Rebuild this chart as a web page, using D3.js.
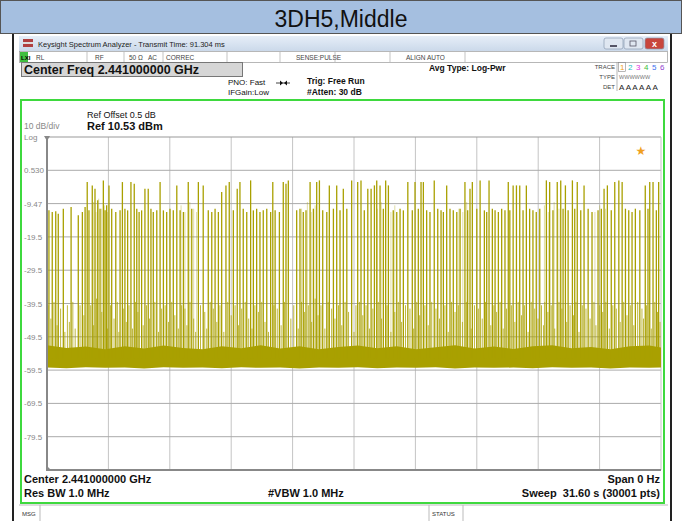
<!DOCTYPE html>
<html><head><meta charset="utf-8">
<script src="https://cdn.jsdelivr.net/npm/d3@7"></script>
<style>body{margin:0;background:#fff}svg{display:block;font-family:"Liberation Sans",Arial,sans-serif}</style>
</head><body><svg id="c" width="682" height="521"></svg>
<script>
// ---- data ----
const sweepSeconds = 31.6;
const refLevel = 10.53;
const bottomLevel = -89.47;
const yTickValues = [0.53, -9.47, -19.47, -29.47, -39.47, -49.47, -59.47, -69.47, -79.47];
const yTickLabels = ["0.530", "-9.47", "-19.5", "-29.5", "-39.5", "-49.5", "-59.5", "-69.5", "-79.5"];
// packet bursts: time (s) and peak level (dBm)
const burstTimes = [0.10,0.27,0.45,0.58,0.84,1.24,1.61,1.82,1.96,2.07,2.16,2.33,2.47,2.61,2.73,2.90,2.99,3.07,3.19,3.33,3.54,3.76,3.88,4.01,4.15,4.32,4.49,4.62,4.74,4.87,5.04,5.21,5.35,5.47,5.65,5.82,5.99,6.16,6.33,6.50,6.68,6.85,7.02,7.27,7.45,7.79,8.04,8.30,8.48,8.65,8.82,8.99,9.21,9.38,9.59,9.79,9.93,10.10,10.28,10.48,10.62,10.79,10.96,11.13,11.31,11.51,11.62,11.74,11.96,12.16,12.30,12.42,12.85,13.02,13.19,13.33,13.54,13.71,13.88,14.02,14.19,14.40,14.53,14.74,14.91,15.08,15.25,15.43,15.68,15.99,16.16,16.33,16.51,16.68,16.85,16.97,17.14,17.31,17.43,17.57,17.82,18.00,18.17,18.34,18.57,18.80,18.94,19.11,19.25,19.37,19.54,19.71,19.93,20.11,20.28,20.40,20.57,20.74,20.91,21.09,21.26,21.51,21.65,21.77,21.89,22.12,22.29,22.51,22.63,22.75,22.92,23.06,23.23,23.40,23.57,23.74,23.82,23.99,24.16,24.33,24.50,24.67,24.84,25.01,25.18,25.36,25.70,25.87,26.04,26.26,26.44,26.56,26.68,26.82,27.04,27.16,27.29,27.47,27.64,27.85,28.05,28.36,28.53,28.67,28.84,29.04,29.22,29.43,29.60,29.77,29.94,30.11,30.28,30.51,30.79,30.93,31.02,31.19,31.36,31.48];
const burstLevels = [-11.5,-12.0,-11.8,-12.5,-11.0,-10.5,-13.0,-12.0,-10.5,-3.0,-11.5,-4.0,-5.0,-8.5,-11.0,-2.5,-11.5,-10.0,-4.0,-11.0,-12.0,-11.5,-3.0,-11.0,-11.5,-3.0,-3.5,-11.0,-12.0,-11.5,-5.0,-5.0,-11.0,-12.0,-11.5,-3.0,-11.5,-12.0,-11.0,-11.5,-4.0,-11.5,-12.0,-3.0,-11.0,-3.0,-4.0,-11.5,-12.0,-11.0,-12.0,-6.0,-4.0,-3.0,-11.5,-5.0,-3.0,-11.0,-12.0,-2.5,-11.5,-11.0,-12.0,-11.5,-11.0,-12.0,-3.0,-11.5,-12.0,-3.0,-3.5,-2.5,-11.5,-11.0,-12.0,-11.5,-3.0,-11.0,-3.0,-2.5,-11.5,-12.0,-4.0,-11.0,-4.0,-11.5,-5.0,-11.0,-2.5,-3.0,-2.5,-11.5,-5.0,-5.0,-4.0,-2.5,-4.0,-11.0,-2.5,-4.0,-11.5,-12.0,-11.0,-11.5,-3.0,-11.5,-3.0,-11.0,-3.0,-3.0,-11.5,-12.0,-2.5,-11.0,-11.5,-12.0,-4.0,-11.0,-11.5,-12.0,-11.0,-3.0,-11.5,-5.0,-3.0,-11.0,-2.5,-11.5,-12.0,-2.5,-11.0,-11.5,-12.0,-11.0,-11.5,-3.0,-11.5,-4.0,-4.0,-4.0,-11.5,-4.0,-11.0,-11.5,-12.0,-11.0,-2.5,-3.0,-11.5,-3.0,-2.5,-11.0,-4.0,-11.5,-2.5,-11.0,-3.0,-11.5,-4.0,-11.0,-12.0,-11.5,-11.0,-5.0,-4.0,-11.5,-3.0,-2.5,-3.0,-11.0,-11.5,-12.0,-11.0,-11.5,-4.0,-11.0,-3.0,-3.0,-11.5,-3.0];
// bursts seen only faintly (dense, partly covered pixels)
const faintTimes = [2.40,2.52,2.66,2.80,2.95,3.12,6.90,7.10,7.35,7.55,7.70,13.10,13.40,13.60,13.80,17.00,17.20,17.70,17.90,21.20,21.40,21.60,25.60,25.80,26.10,26.35,28.20,28.45,28.75];
const faintLevels = [-9,-12,-8,-11,-10,-12,-10,-12,-9,-11,-12,-11,-9,-12,-10,-11,-9,-12,-10,-11,-12,-9,-10,-12,-9,-11,-12,-10,-11];
// weaker bursts reaching around -40 dBm
const weakTimes = [0.05,0.20,0.36,0.52,0.70,0.92,1.05,1.15,1.33,1.45,1.70,1.90,2.25,2.40,2.55,2.82,3.12,3.27,3.45,3.62,3.70,3.95,4.08,4.22,4.40,4.56,4.68,4.95,5.12,5.28,5.55,5.74,5.90,6.08,6.25,6.42,6.58,6.76,6.93,7.10,7.20,7.36,7.55,7.65,7.90,8.12,8.22,8.40,8.56,8.74,8.90,9.10,9.30,9.48,9.68,9.86,10.02,10.20,10.38,10.55,10.70,10.88,11.05,11.22,11.40,11.68,11.85,12.05,12.22,12.55,12.70,12.93,13.10,13.26,13.45,13.62,13.80,13.95,14.10,14.30,14.47,14.65,14.82,15.00,15.17,15.34,15.52,15.80,15.90,16.08,16.25,16.42,16.60,16.77,17.05,17.22,17.50,17.70,17.90,18.08,18.25,18.45,18.68,18.87,19.03,19.18,19.45,19.62,19.80,20.02,20.20,20.48,20.65,20.82,21.00,21.17,21.38,21.58,21.83,22.00,22.20,22.40,22.57,22.84,23.00,23.14,23.32,23.48,23.65,23.90,24.08,24.25,24.42,24.58,24.76,24.92,25.10,25.27,25.45,25.55,25.62,25.78,25.95,26.13,26.35,26.50,26.75,26.92,27.10,27.22,27.38,27.55,27.74,27.95,28.15,28.25,28.45,28.60,28.76,28.94,29.12,29.30,29.50,29.68,29.85,30.02,30.20,30.40,30.62,30.70,30.85,31.10,31.28,31.42,31.55];
const weakLevels = [-40,-44,-39,-46,-41,-48,-40,-45,-39,-47,-40,-43,-40,-46,-38,-42,-47,-40,-44,-39,-48,-41,-45,-40,-47,-39,-42,-46,-40,-44,-39,-48,-41,-40,-45,-39,-43,-47,-40,-41,-46,-39,-44,-48,-40,-42,-47,-39,-41,-45,-40,-48,-39,-43,-40,-46,-41,-39,-44,-47,-40,-42,-39,-45,-48,-40,-41,-46,-39,-44,-40,-47,-39,-42,-40,-45,-38,-43,-40,-47,-39,-41,-44,-40,-46,-39,-42,-48,-40,-39,-43,-40,-47,-41,-39,-44,-40,-48,-42,-39,-45,-40,-41,-47,-39,-43,-40,-46,-39,-41,-44,-40,-48,-39,-42,-40,-45,-39,-47,-40,-41,-44,-39,-46,-40,-42,-39,-47,-41,-40,-45,-39,-43,-40,-48,-39,-41,-44,-40,-46,-39,-42,-40,-47,-39,-41,-45,-40,-43,-39,-48,-40,-41,-44,-39,-46,-40,-42,-39,-47,-40,-41,-45,-39,-43,-40,-46,-39,-41,-44,-40,-47,-39,-42,-45];
// noise floor envelope
const floorTimes = [0,1,2,3,4,5,6,7,8,9,10,11,12,13,14,15,16,17,18,19,20,21,22,23,24,25,26,27,28,29,30,31,31.6];
const floorTop = [-52.0,-52.8,-52.4,-53.2,-52.3,-53.0,-52.1,-52.8,-53.2,-52.3,-52.9,-52.0,-53.0,-52.3,-53.2,-52.5,-52.1,-52.9,-52.3,-53.2,-52.6,-52.0,-53.0,-52.4,-53.1,-52.3,-52.0,-52.9,-52.5,-53.2,-52.3,-52.1,-52.7];
const floorBottom = [-58.7,-58.9,-58.6,-58.8,-58.7,-59.0,-58.6,-58.8,-58.7,-58.9,-58.6,-58.8,-58.7,-59.0,-58.7,-58.8,-58.6,-58.9,-58.7,-58.8,-58.6,-59.0,-58.7,-58.8,-58.7,-58.9,-58.6,-58.8,-58.7,-59.0,-58.7,-58.8,-58.7];

// ---- drawing ----
const svg = d3.select("#c");
const F = '"Liberation Sans",Arial,sans-serif';
const txt = (x,y,s,o={}) => svg.append("text").attr("x",x).attr("y",y).text(s)
  .attr("font-size",o.size||9).attr("font-weight",o.bold?"bold":"normal")
  .attr("fill",o.fill||"#000").attr("text-anchor",o.anchor||"start").attr("font-family",o.family||F);

// title band
svg.append("rect").attr("x",0.5).attr("y",0.5).attr("width",681).attr("height",33).attr("fill","#a5bfe0").attr("stroke","#555");
txt(341,27,"3DH5,Middle",{size:23,anchor:"middle",fill:"#111"});
// frame lines
svg.append("rect").attr("x",12).attr("y",34).attr("width",2).attr("height",487).attr("fill","#222");
svg.append("rect").attr("x",670).attr("y",34).attr("width",2).attr("height",487).attr("fill","#222");

// window title bar
const defs = svg.append("defs");
const g1 = defs.append("linearGradient").attr("id","tb").attr("x1",0).attr("y1",0).attr("x2",0).attr("y2",1);
g1.append("stop").attr("offset",0).attr("stop-color","#e6eef8");
g1.append("stop").attr("offset",1).attr("stop-color","#cbd9ea");
svg.append("rect").attr("x",19).attr("y",36).attr("width",649).attr("height",15).attr("fill","url(#tb)");
svg.append("rect").attr("x",23).attr("y",39).attr("width",10).attr("height",8).attr("fill","#b04040");
svg.append("rect").attr("x",23).attr("y",42).attr("width",10).attr("height",2).attr("fill","#ddd");
txt(38,47,"Keysight Spectrum Analyzer - Transmit Time: 91.304 ms",{size:7.5,fill:"#222"});
[[604,"#dfe7f1"],[624,"#dfe7f1"],[645,"#c8463c"]].forEach(([x,c])=>{
  svg.append("rect").attr("x",x).attr("y",38).attr("width",19).attr("height",11).attr("rx",2).attr("fill",c).attr("stroke","#8a9bb0").attr("stroke-width",0.7);
});
svg.append("rect").attr("x",610).attr("y",45).attr("width",7).attr("height",2).attr("fill","#556");
svg.append("rect").attr("x",630).attr("y",41).attr("width",6).attr("height",5).attr("fill","none").attr("stroke","#556").attr("stroke-width",0.8);
txt(654.5,47,"x",{size:9,bold:true,fill:"#fff",anchor:"middle"});

// status row
svg.append("rect").attr("x",19.5).attr("y",51.5).attr("width",648).attr("height",11).attr("fill","#fff").attr("stroke","#999").attr("stroke-width",0.7);
svg.append("rect").attr("x",20).attr("y",52).attr("width",8).attr("height",10).attr("fill","#3fbf3f");
txt(21,60,"LXI",{size:6,bold:true,fill:"#000"});
[[36,"RL"],[95,"RF"],[129,"50 Ω"],[148,"AC"],[166,"CORREC"],[296,"SENSE:PULSE"],[406,"ALIGN AUTO"]].forEach(([x,s])=>txt(x,60,s,{size:6.5,fill:"#444"}));
[87,124,163,227,280,335,390,465].forEach(x=>svg.append("line").attr("x1",x).attr("x2",x).attr("y1",52).attr("y2",62).attr("stroke","#aaa").attr("stroke-width",0.7));

// info area
svg.append("rect").attr("x",21.5).attr("y",62.5).attr("width",221).attr("height",14).attr("fill","#d6d6d6").attr("stroke","#777");
txt(24,74,"Center Freq 2.441000000 GHz",{size:12.5,bold:true,fill:"#111"});
txt(228,85,"PNO: Fast",{size:8,fill:"#111"});
txt(228,95,"IFGain:Low",{size:8,fill:"#111"});
svg.append("line").attr("x1",276).attr("x2",290).attr("y1",83).attr("y2",83).attr("stroke","#111").attr("stroke-width",0.8);
svg.append("path").attr("d","M280,80.5 L283,83 L280,85.5 Z M287,80.5 L284,83 L287,85.5 Z").attr("fill","#111");
txt(307,84,"Trig: Free Run",{size:8.5,bold:true,fill:"#111"});
txt(307,95,"#Atten: 30 dB",{size:8.5,bold:true,fill:"#111"});
txt(429,71,"Avg Type: Log-Pwr",{size:8.5,bold:true,fill:"#111"});
txt(615,69,"TRACE",{size:6,fill:"#444",anchor:"end"});
txt(615,79,"TYPE",{size:6,fill:"#444",anchor:"end"});
txt(615,89,"DET",{size:6,fill:"#444",anchor:"end"});
svg.append("line").attr("x1",617).attr("x2",617).attr("y1",62).attr("y2",91).attr("stroke","#999").attr("stroke-width",0.7);
svg.append("rect").attr("x",618.5).attr("y",62.5).attr("width",7).attr("height",9).attr("fill","none").attr("stroke","#888").attr("stroke-width",0.6);
const traceCols = ["#f0a020","#20c0c0","#e030e0","#40c040","#4070f0","#9040d0"];
["1","2","3","4","5","6"].forEach((s,i)=>txt(620+i*8,70,s,{size:8,fill:traceCols[i]}));
txt(619,79,"WWWWWW",{size:5.5,fill:"#777"});
txt(619,90,"A A A A A A",{size:8,fill:"#222"});

// green frame
svg.append("rect").attr("x",21).attr("y",100).attr("width",643).attr("height",403).attr("fill","#fff").attr("stroke","#3ed93e").attr("stroke-width",2);

// plot area
const x0 = 47, x1 = 661, yTop = 137, yBot = 470;
const x = d3.scaleLinear().domain([0, sweepSeconds]).range([x0, x1]);
const y = d3.scaleLinear().domain([bottomLevel, refLevel]).range([yBot, yTop]);

const grid = svg.append("g");
d3.range(1,10).forEach(i=>{
  const t = sweepSeconds*i/10;
  grid.append("line").attr("x1",x(t)).attr("x2",x(t)).attr("y1",yTop).attr("y2",yBot).attr("stroke","#c4c4c4");
});
yTickValues.forEach(v=>grid.append("line").attr("x1",x0).attr("x2",x1).attr("y1",y(v)).attr("y2",y(v)).attr("stroke","#aaa"));
grid.append("line").attr("x1",x0).attr("x2",x1).attr("y1",yTop).attr("y2",yTop).attr("stroke","#999");
grid.append("line").attr("x1",x1).attr("x2",x1).attr("y1",yTop).attr("y2",yBot).attr("stroke","#c4c4c4");

const yAxis = d3.axisLeft(y).tickValues(yTickValues).tickFormat((d,i)=>yTickLabels[i]).tickSize(0).tickPadding(0);
const ya = svg.append("g").attr("transform",`translate(${x0},0)`).call(yAxis);
ya.select(".domain").remove();
ya.selectAll("text").attr("x",-23).attr("text-anchor","start").attr("fill","#888").attr("font-size",8).attr("font-family",F);

const trace = "#a9a000";
// weak bursts
svg.append("g").selectAll("line").data(weakTimes).join("line")
  .attr("x1",d=>x(d)).attr("x2",d=>x(d)).attr("y1",y(-56)).attr("y2",(d,i)=>y(weakLevels[i]))
  .attr("stroke",trace).attr("stroke-width",1).attr("opacity",0.75);
// faint bursts
svg.append("g").selectAll("line").data(faintTimes).join("line")
  .attr("x1",d=>x(d)).attr("x2",d=>x(d)).attr("y1",y(-56)).attr("y2",(d,i)=>y(faintLevels[i]))
  .attr("stroke",trace).attr("stroke-width",1).attr("opacity",0.35);
// noise floor band
const area = d3.area().x(d=>x(d)).y0((d,i)=>y(floorBottom[i])).y1((d,i)=>y(floorTop[i]));
svg.append("path").attr("d",area(floorTimes)).attr("fill",trace);
// strong bursts
svg.append("g").selectAll("line").data(burstTimes).join("line")
  .attr("x1",d=>x(d)).attr("x2",d=>x(d)).attr("y1",y(-56)).attr("y2",(d,i)=>y(burstLevels[i]))
  .attr("stroke",trace).attr("stroke-width",1.3);

// axes frame lines
svg.append("line").attr("x1",x0).attr("x2",x0).attr("y1",yTop).attr("y2",yBot).attr("stroke","#888").attr("stroke-width",2);
svg.append("line").attr("x1",x0-1).attr("x2",x1).attr("y1",yBot).attr("y2",yBot).attr("stroke","#888").attr("stroke-width",2);
svg.append("path").attr("d",`M${x0-3},${yTop-1} L${x0+3},${yTop-1} L${x0},${yTop+4} Z`).attr("fill","#888");
svg.append("path").attr("d",`M${x0-1},${yBot-5} L${x0+4},${yBot} L${x0-1},${yBot} Z`).attr("fill","#888");

// marker star
txt(641,155,"★",{size:12,fill:"#f0a020",anchor:"middle",family:"DejaVu Sans"});

// labels
txt(87,118,"Ref Offset 0.5 dB",{size:9,fill:"#111"});
txt(87,130,"Ref 10.53 dBm",{size:11,bold:true,fill:"#111"});
txt(24,129,"10 dB/div",{size:8.5,fill:"#888"});
txt(24,140,"Log",{size:8,fill:"#888"});
txt(24,483,"Center 2.441000000 GHz",{size:11,bold:true,fill:"#111"});
txt(24,497,"Res BW 1.0 MHz",{size:11,bold:true,fill:"#111"});
txt(268,497,"#VBW 1.0 MHz",{size:11,bold:true,fill:"#111"});
txt(660,483,"Span 0 Hz",{size:11,bold:true,fill:"#111",anchor:"end"});
txt(660,497,"Sweep\u00a0\u00a031.60 s (30001 pts)",{size:11,bold:true,fill:"#111",anchor:"end"});

// bottom message bar
svg.append("line").attr("x1",19).attr("x2",668).attr("y1",505).attr("y2",505).attr("stroke","#bbb");
svg.append("line").attr("x1",40).attr("x2",40).attr("y1",505).attr("y2",521).attr("stroke","#bbb");
svg.append("line").attr("x1",429).attr("x2",429).attr("y1",505).attr("y2",521).attr("stroke","#bbb");
svg.append("line").attr("x1",463).attr("x2",463).attr("y1",505).attr("y2",521).attr("stroke","#bbb");
txt(22,516,"MSG",{size:6,fill:"#333"});
txt(432,516,"STATUS",{size:6,fill:"#333"});
</script></body></html>
